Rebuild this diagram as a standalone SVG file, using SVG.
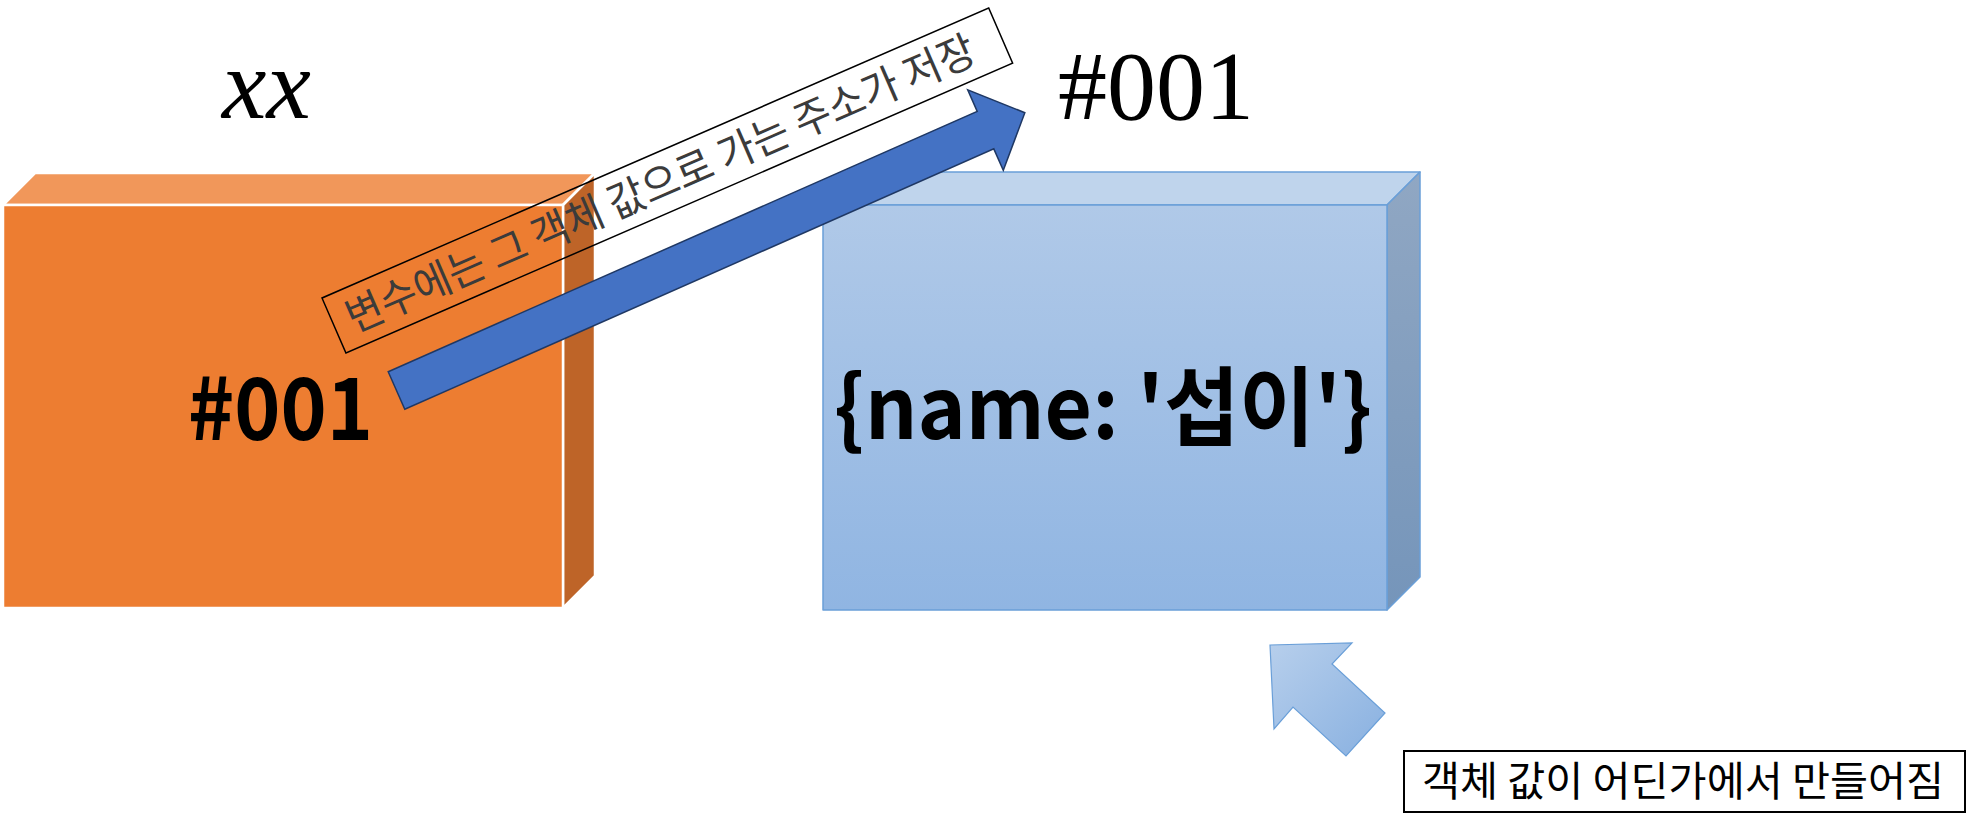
<svg xmlns="http://www.w3.org/2000/svg" width="1971" height="827" viewBox="0 0 1971 827">
  <defs>
    <linearGradient id="gFront" x1="0" y1="0" x2="0" y2="1">
      <stop offset="0" stop-color="#B0C9E8"/>
      <stop offset="1" stop-color="#90B5E2"/>
    </linearGradient>
    <linearGradient id="gSide" x1="0" y1="0" x2="0" y2="1">
      <stop offset="0" stop-color="#90A7C3"/>
      <stop offset="1" stop-color="#7595BA"/>
    </linearGradient>
    <linearGradient id="gSmall" x1="0" y1="0" x2="1" y2="1">
      <stop offset="0" stop-color="#B7CFEC"/>
      <stop offset="1" stop-color="#88B0E0"/>
    </linearGradient>
    <style>
      .ow { stroke: #FFFFFF; stroke-width: 2.5; stroke-linejoin: round; }
      .bl { stroke: #6A9FD8; stroke-width: 1.5; stroke-linejoin: round; }
      .kr { font-family: "Noto Sans CJK KR", "Noto Sans", sans-serif; }
      .serif { font-family: "Liberation Serif", "DejaVu Serif", serif; }
      .frame { fill: none; stroke: #000000; stroke-width: 1.5; }
    </style>
  </defs>

  <!-- variable box (orange) -->
  <g id="node-variable">
    <polygon class="ow" points="3,205 35,173 595,173 563,205" fill="#F1975A"/>
    <polygon class="ow" points="563,205 595,173 595,576 563,608" fill="#BE6428"/>
    <rect class="ow" x="3" y="205" width="560" height="403" fill="#ED7D31"/>
    <text class="kr" x="188" y="440" font-size="86" font-weight="bold" fill="#000000" textLength="185" lengthAdjust="spacingAndGlyphs">#001</text>
  </g>

  <!-- object box (blue) -->
  <g id="node-object">
    <polygon class="bl" points="823,205 856,172 1420,172 1387,205" fill="#BFD4EC"/>
    <polygon class="bl" points="1387,205 1420,172 1420,577 1387,610" fill="url(#gSide)"/>
    <rect class="bl" x="823" y="205" width="564" height="405" fill="url(#gFront)"/>
    <text class="kr" x="834" y="439" font-size="86" font-weight="bold" fill="#000000" textLength="538" lengthAdjust="spacingAndGlyphs">{name: '섭이'}</text>
  </g>

  <!-- labels -->
  <g id="label-xx">
    <text class="serif" x="222" y="118" font-size="100" font-style="italic" fill="#000000">xx</text>
  </g>
  <g id="label-address">
    <text class="serif" x="1058" y="119" font-size="98" fill="#000000">#001</text>
  </g>
  <g id="label-stored" transform="translate(322,298) rotate(-23.5)">
    <rect class="frame" x="0" y="0" width="727" height="60"/>
    <text class="kr" x="15" y="45" font-size="42" fill="#3B3B3B" textLength="682" lengthAdjust="spacingAndGlyphs">변수에는 그 객체 값으로 가는 주소가 저장</text>
  </g>
  <g id="label-created">
    <rect x="1404" y="751" width="561" height="61" fill="#FFFFFF" stroke="#000000" stroke-width="2"/>
    <text class="kr" x="1422" y="796" font-size="41" fill="#000000" textLength="522" lengthAdjust="spacingAndGlyphs">객체 값이 어딘가에서 만들어짐</text>
  </g>

  <!-- connectors -->
  <g id="connectors">
    <polygon transform="translate(396.5,390.5) rotate(-23.85)" points="0,-20.5 644,-20.5 644,-44 687,0 644,44 644,20.5 0,20.5" fill="#4472C4" stroke="#1F3864" stroke-width="1.5" stroke-linejoin="miter"/>
    <polygon points="1270,645 1352,643 1332,664 1385,713 1346,756 1293,707 1274,729" fill="url(#gSmall)" stroke="#6A9FD8" stroke-width="1.2" stroke-linejoin="miter"/>
  </g>
</svg>
